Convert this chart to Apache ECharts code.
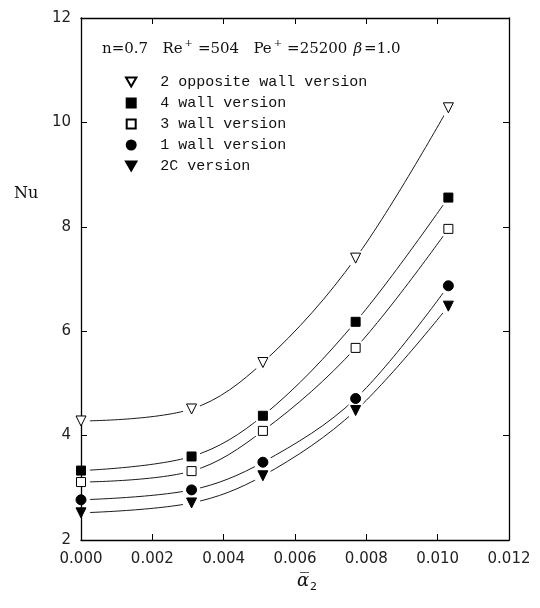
<!DOCTYPE html>
<html>
<head>
<meta charset="utf-8">
<script src="https://cdn.jsdelivr.net/npm/echarts@6/dist/echarts.min.js"></script>
<style>
html, body { margin: 0; padding: 0; background: #fff; }
#chart { width: 540px; height: 608px; }
</style>
</head>
<body>
<div id="chart"></div>
<script>
// dimensionless axial parameter (x) and Nusselt number for each wall version
const alpha2 = [0, 0.0031, 0.0051, 0.0077, 0.0103];
const oppositeWall2 = [4.28, 4.51, 5.40, 7.40, 10.28];
const wall4 = [3.33, 3.60, 4.38, 6.18, 8.56];
const wall3 = [3.11, 3.32, 4.09, 5.68, 7.96];
const wall1 = [2.77, 2.96, 3.49, 4.71, 6.87];
const version2C = [2.52, 2.71, 3.23, 4.48, 6.48];
const seriesNames = ['2 opposite wall version', '4 wall version', '3 wall version', '1 wall version', '2C version'];

const chart = echarts.init(document.getElementById('chart'));

const downTri = 'path://M0,0L10,0L5,8.66Z';
const square = 'path://M0,0L10,0L10,10L0,10Z';
const markers = [
    { symbol: downTri, size: 10, fill: '#fff' },
    { symbol: square, size: 9, fill: '#000' },
    { symbol: square, size: 9, fill: '#fff' },
    { symbol: 'circle', size: 10, fill: '#000' },
    { symbol: downTri, size: 10, fill: '#000' }
];
const groups = [oppositeWall2, wall4, wall3, wall1, version2C];
const pairs = vals => alpha2.map((x, i) => [x, vals[i]]);

const lineSeries = groups.map(vals => ({
    type: 'line',
    data: pairs(vals),
    smooth: 0.35,
    symbol: 'none',
    silent: true,
    z: 1,
    lineStyle: { color: '#1a1a1a', width: 1 }
}));
// white discs over the curves so they stop short of each marker
const haloSeries = groups.map(vals => ({
    type: 'custom',
    data: pairs(vals),
    silent: true,
    z: 2,
    encode: { x: 0, y: 1 },
    renderItem: (params, api) => {
        const p = api.coord([api.value(0), api.value(1)]);
        return {
            type: 'circle',
            shape: { cx: p[0], cy: p[1], r: 9 },
            style: { fill: '#ffffff' }
        };
    }
}));
const markerSeries = groups.map((vals, i) => ({
    type: 'scatter',
    name: seriesNames[i],
    data: pairs(vals),
    symbol: markers[i].symbol,
    symbolSize: markers[i].size,
    z: 4,
    itemStyle: { color: markers[i].fill, borderColor: '#000', borderWidth: 1, opacity: 1 }
}));

const axisLine = { show: true, onZero: false, lineStyle: { color: '#000', width: 1.3 } };
const axisTick = { show: true, inside: true, length: 6, lineStyle: { color: '#000', width: 1 } };
const labelFont = { fontFamily: 'DejaVu Sans', fontSize: 15, color: '#222' };

chart.setOption({
    animation: false,
    backgroundColor: '#fff',
    grid: { left: 81, right: 31, top: 18, bottom: 68 },
    title: {
        text: 'n=0.7   Re{s|+}=504   Pe{s|+}=25200{g|β}=1.0',
        left: 97,
        top: 33,
        textStyle: {
            fontFamily: 'DejaVu Serif',
            fontSize: 15,
            fontWeight: 'normal',
            color: '#111',
            rich: {
                s: { fontFamily: 'DejaVu Serif', fontSize: 10, color: '#111', padding: [0, 5, 12, 2] },
                g: { fontFamily: 'DejaVu Serif', fontSize: 15, fontStyle: 'italic', color: '#111', padding: [0, 2, 0, 6] }
            }
        }
    },
    legend: {
        orient: 'vertical',
        left: 120,
        top: 69,
        itemWidth: 48,
        itemHeight: 9,
        itemGap: 5,
        selectedMode: false,
        data: seriesNames,
        textStyle: { fontFamily: 'Liberation Mono', fontSize: 15, color: '#111', lineHeight: 16 }
    },
    graphic: [{
        type: 'text',
        left: 14,
        top: 186,
        style: { text: 'Nu', font: '16px "DejaVu Serif"', fill: '#111' }
    }],
    xAxis: [{
        type: 'value',
        position: 'bottom',
        min: 0,
        max: 0.012,
        interval: 0.002,
        z: 3,
        axisLine: axisLine,
        axisTick: axisTick,
        splitLine: { show: false },
        axisLabel: Object.assign({ margin: 12, formatter: v => v.toFixed(3) }, labelFont),
        name: '{a|α\u0305}{s|2}',
        nameLocation: 'middle',
        nameGap: 30,
        nameTextStyle: {
            padding: [0, 0, 0, 24],
            rich: {
                a: { fontFamily: 'DejaVu Serif', fontStyle: 'italic', fontSize: 18, color: '#111' },
                s: { fontFamily: 'DejaVu Sans', fontSize: 11, color: '#111', padding: [12, 0, 0, 1] }
            }
        }
    }, {
        type: 'value',
        position: 'top',
        min: 0,
        max: 0.012,
        interval: 0.002,
        z: 3,
        axisLine: axisLine,
        axisTick: axisTick,
        splitLine: { show: false },
        axisLabel: { show: false }
    }],
    yAxis: [{
        type: 'value',
        position: 'left',
        min: 2,
        max: 12,
        interval: 2,
        z: 3,
        axisLine: axisLine,
        axisTick: axisTick,
        splitLine: { show: false },
        axisLabel: Object.assign({ margin: 10 }, labelFont)
    }, {
        type: 'value',
        position: 'right',
        min: 2,
        max: 12,
        interval: 2,
        z: 3,
        axisLine: axisLine,
        axisTick: axisTick,
        splitLine: { show: false },
        axisLabel: { show: false }
    }],
    series: lineSeries.concat(haloSeries, markerSeries)
});
</script>
</body>
</html>
